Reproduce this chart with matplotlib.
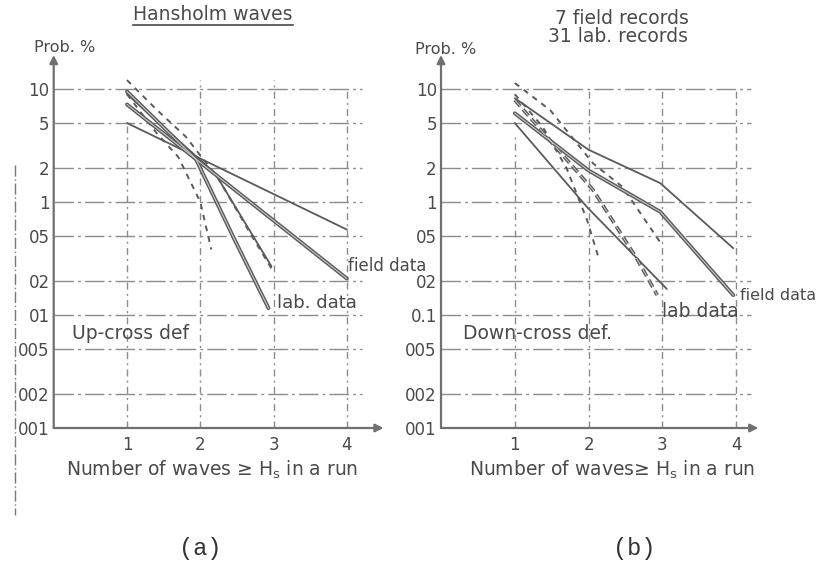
import matplotlib.pyplot as plt
from matplotlib.lines import Line2D

plt.rcParams['font.family'] = ['DejaVu Sans']
plt.rcParams['mathtext.default'] = 'regular'
plt.rcParams['lines.scale_dashes'] = False

W, H = 825, 585
INK = "#5a5a5a"
GRID = "#8c8c8c"
TXT = "#4a4a4a"

# y ticks (probability, %)
prob_ticks = [0.01, 0.02, 0.05, 0.1, 0.2, 0.5, 1, 2, 5, 10]
labels_a = ["001", "002", "005", "01", "02", "05", "1", "2", "5", "10"]
labels_b = ["001", "002", "005", "0.1", "02", "05", "1", "2", "5", "10"]
x_ticks = [1, 2, 3, 4]
vtop_a = [5, 12, 12, 10]
vtop_b = [4, 10, 10, 10]

# (a) Hansholm waves, up-cross definition
a_field1_x = [1, 4]
a_field1_y = [5.0, 0.57]
a_field2_x = [1, 4]
a_field2_y = [7.3, 0.21]
a_lab1_x = [1, 2.2, 2.97]
a_lab1_y = [9.0, 1.8, 0.27]
a_lab2_x = [1, 1.94, 2.45, 2.93]
a_lab2_y = [9.5, 2.4, 0.49, 0.115]
a_lab3_x = [1, 1.4, 1.8, 2.25, 2.68, 3.0]
a_lab3_y = [12.0, 6.6, 3.8, 1.6, 0.53, 0.24]
a_lab4_x = [1, 1.4, 1.7, 2.0, 2.15]
a_lab4_y = [9.0, 4.1, 2.5, 1.0, 0.38]

# (b) 7 field records / 31 lab records, down-cross definition
b_field1_x = [1, 1.98, 3.06]
b_field1_y = [5.0, 0.9, 0.17]
b_field2_x = [1, 2.0, 2.97, 3.96]
b_field2_y = [6.1, 1.9, 0.82, 0.15]
b_field3_x = [1, 2.0, 2.97, 3.96]
b_field3_y = [8.3, 2.9, 1.47, 0.39]
b_lab1_x = [1, 1.48, 2.06, 2.46, 2.97]
b_lab1_y = [11.3, 6.5, 2.2, 1.36, 0.44]
b_lab2_x = [1, 1.38, 1.7, 1.98, 2.13]
b_lab2_y = [9.0, 4.6, 2.0, 0.69, 0.33]
b_lab3_x = [1, 2.06, 2.66, 2.93]
b_lab3_y = [8.0, 1.28, 0.31, 0.15]


def fx(px):
    return px / W


def fy(py):
    return 1 - py / H


def thin(ax, x, y):
    ax.plot(x, y, color=INK, lw=1.3, solid_capstyle="round", zorder=4)


def thick(ax, x, y):
    ax.plot(x, y, color=INK, lw=2.8, solid_capstyle="round", zorder=4)
    ax.plot(x, y, color="#c8c8c8", lw=0.8, zorder=5)


def dashed(ax, x, y, heavy=False):
    if heavy:
        ax.plot(x, y, color=INK, lw=2.6, dashes=(6, 3), zorder=4)
        ax.plot(x, y, color="#c8c8c8", lw=0.7, dashes=(6, 3), zorder=5)
    else:
        ax.plot(x, y, color=INK, lw=1.4, dashes=(4, 4), zorder=4)


def setup(ax, labels, xmax, vtop):
    ax.set_yscale("log")
    ax.set_ylim(0.01, 20)
    ax.set_xlim(0, xmax)
    for s in ax.spines.values():
        s.set_visible(False)
    ax.set_yticks(prob_ticks)
    ax.set_yticklabels(labels)
    ax.minorticks_off()
    ax.set_xticks(x_ticks)
    ax.set_xticklabels([str(t) for t in x_ticks])
    ax.tick_params(length=0, labelsize=12, labelcolor=TXT)
    ax.tick_params(axis="x", pad=6)
    ax.tick_params(axis="y", pad=3)
    # grid
    for p in prob_ticks[1:]:
        ax.plot([0, 4.2], [p, p], color=GRID, lw=1.0, dashes=(14, 3, 2, 3), zorder=1)
    for xv, top in zip(x_ticks, vtop):
        ax.plot([xv, xv], [0.01, top], color=GRID, lw=1.0, dashes=(5, 3, 1.5, 3), zorder=1)
    # axes with arrows
    ax.annotate("", xy=(1, 0), xytext=(0, 0), xycoords="axes fraction",
                arrowprops=dict(arrowstyle="-|>", color="#707070", lw=1.6,
                                mutation_scale=12, shrinkA=0, shrinkB=0))
    ax.annotate("", xy=(0, 1), xytext=(0, 0), xycoords="axes fraction",
                arrowprops=dict(arrowstyle="-|>", color="#707070", lw=1.6,
                                mutation_scale=12, shrinkA=0, shrinkB=0))


fig = plt.figure(figsize=(8.25, 5.85), dpi=100)
fig.patch.set_facecolor("white")

bottom = fy(428)
height = (428 - 55) / H
ax_a = fig.add_axes([fx(53.7), bottom, (4.5 * 73.3) / W, height])
ax_b = fig.add_axes([fx(441), bottom, (4.3 * 73.8) / W, height])

setup(ax_a, labels_a, 4.5, vtop_a)
setup(ax_b, labels_b, 4.3, vtop_b)

# panel (a)
thin(ax_a, a_field1_x, a_field1_y)
thick(ax_a, a_field2_x, a_field2_y)
thin(ax_a, a_lab1_x, a_lab1_y)
thick(ax_a, a_lab2_x, a_lab2_y)
dashed(ax_a, a_lab3_x, a_lab3_y)
dashed(ax_a, a_lab4_x, a_lab4_y)

# panel (b)
thin(ax_b, b_field1_x, b_field1_y)
thick(ax_b, b_field2_x, b_field2_y)
thin(ax_b, b_field3_x, b_field3_y)
dashed(ax_b, b_lab1_x, b_lab1_y)
dashed(ax_b, b_lab2_x, b_lab2_y)
dashed(ax_b, b_lab3_x, b_lab3_y, heavy=True)

tkw = dict(color=TXT, clip_on=False, ha="left", va="center")
ax_a.text(4.01, 0.27, "field data", fontsize=12, **tkw)
ax_a.text(3.05, 0.128, "lab. data", fontsize=13, **tkw)
ax_a.text(0.25, 0.068, "Up-cross def", fontsize=13.5, **tkw)
ax_b.text(4.05, 0.15, "field data", fontsize=11.5, **tkw)
ax_b.text(2.99, 0.108, "lab data", fontsize=13.5, **tkw)
ax_b.text(0.3, 0.069, "Down-cross def.", fontsize=13.5, **tkw)

# axis labels and titles
fig.text(fx(65), fy(48), "Prob. %", ha="center", va="center", fontsize=11.5, color=TXT)
fig.text(fx(446), fy(50), "Prob. %", ha="center", va="center", fontsize=11.5, color=TXT)
fig.text(fx(212), fy(470), "Number of waves ≥ H$_s$ in a run",
         ha="center", va="center", fontsize=13.5, color=TXT)
fig.text(fx(612), fy(470), "Number of waves≥ H$_s$ in a run",
         ha="center", va="center", fontsize=13.5, color=TXT)

fig.text(fx(213), fy(15), "Hansholm waves", ha="center", va="center", fontsize=13.5, color=TXT)
fig.add_artist(Line2D([fx(133), fx(293)], [fy(25), fy(25)], color=TXT, lw=1.2))
fig.text(fx(622), fy(19), "7 field records", ha="center", va="center", fontsize=13.5, color=TXT)
fig.text(fx(618), fy(37), "31 lab. records", ha="center", va="center", fontsize=13.5, color=TXT)

fig.text(fx(200), fy(548), "(a)", ha="center", va="center", fontsize=17,
         family="Liberation Mono", color="#333333")
fig.text(fx(634), fy(548), "(b)", ha="center", va="center", fontsize=17,
         family="Liberation Mono", color="#333333")

# scan margin mark at the left edge
fig.add_artist(Line2D([fx(15), fx(15)], [fy(165), fy(515)], color="#777777",
                      lw=1.0, dashes=(8, 2, 1, 2)))

fig.savefig("out.png", dpi=100, facecolor="white")
plt.close(fig)
